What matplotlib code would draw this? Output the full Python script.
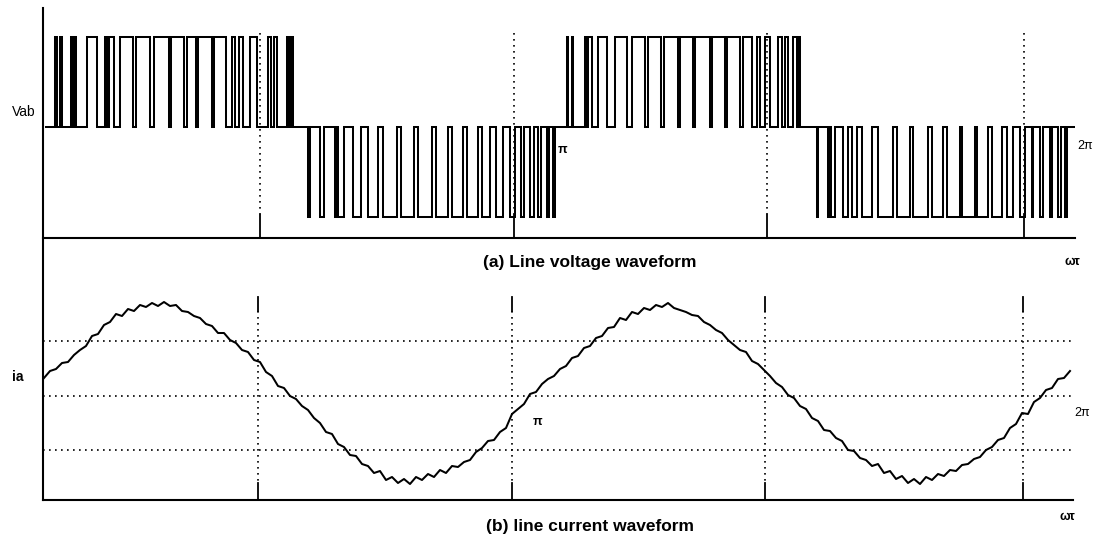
import numpy as np
import matplotlib
matplotlib.use("Agg")
import matplotlib.pyplot as plt

# ---------------- data ----------------
# x axis: omega*t in arbitrary sample units (0 .. 1032 across the plot)
X_MAX = 1032

# (a) line voltage: PWM pulses as (start, end) per half cycle, level +1 / -1
pos_pulses_1 = [(12, 14), (17, 19), (28, 30), (31, 33), (44, 54), (62, 64), (66, 71),
                (77, 90), (93, 107), (111, 126), (128, 141), (144, 153), (155, 169),
                (171, 183), (189, 192), (196, 200), (207, 214), (225, 228), (231, 234),
                (244, 246), (248, 250)]
neg_pulses_1 = [(265, 267), (277, 281), (292, 294), (295, 301), (310, 318), (325, 335),
                (340, 354), (358, 371), (375, 389), (393, 405), (409, 420), (424, 435),
                (439, 447), (453, 460), (467, 472), (478, 481), (487, 491), (495, 498),
                (504, 506), (510, 512)]
pos_pulses_2 = [(524, 525), (529, 530), (542, 544), (545, 549), (555, 564), (572, 584),
                (589, 602), (605, 618), (621, 635), (637, 650), (652, 667), (669, 682),
                (684, 697), (700, 709), (714, 717), (722, 727), (735, 739), (742, 745),
                (750, 754), (755, 757)]
neg_pulses_2 = [(774, 775), (785, 787), (788, 792), (800, 805), (809, 814), (819, 829),
                (835, 850), (854, 867), (870, 885), (889, 900), (904, 917), (919, 932),
                (934, 945), (949, 959), (964, 970), (977, 982), (989, 990), (997, 1000),
                (1007, 1009), (1015, 1018), (1022, 1024)]
vab_start = 3

# (b) line current samples, one every 6 units starting at 1
ia_step = 6
ia_start = 1
ia_vals = [18, 25, 27, 33, 34, 41, 46, 50, 60, 62, 71, 74, 82, 80, 87, 85, 91, 89, 93, 90,
           94, 90, 91, 85, 84, 80, 78, 72, 70, 63, 63, 56, 53, 46, 44, 36, 34, 24, 20, 10,
           8, 0, -3, -10, -14, -22, -27, -36, -38, -48, -51, -59, -60, -68, -70, -77, -75,
           -84, -81, -87, -83, -88, -81, -84, -78, -81, -74, -77, -70, -71, -66, -64, -56,
           -52, -45, -44, -36, -32, -18, -13, -8, 2, 4, 12, 17, 20, 27, 30, 38, 40, 48, 50,
           58, 60, 68, 69, 78, 76, 84, 82, 88, 86, 91, 89, 93, 88, 86, 84, 81, 80, 74, 71,
           66, 63, 56, 51, 46, 44, 35, 32, 26, 20, 13, 9, 1, -2, -10, -13, -22, -25, -34,
           -35, -42, -45, -54, -55, -62, -64, -70, -68, -77, -75, -83, -80, -87, -83, -88,
           -81, -84, -78, -80, -74, -75, -69, -68, -63, -61, -54, -51, -44, -42, -32, -28,
           -17, -18, -6, -2, 6, 8, 17, 18, 25]

# reference lines
top_vlines = [217, 471, 724, 981]
bot_vlines = [215, 469, 722, 980]
bot_hgrid = [55, 0, -54]

# ---------------- figure ----------------
W, H = 1096, 536
fig = plt.figure(figsize=(W / 100, H / 100), dpi=100)
fig.patch.set_facecolor("white")

def frac_rect(l, t, r, b):
    return [l / W, 1 - b / H, (r - l) / W, (b - t) / H]

ax1 = fig.add_axes(frac_rect(43, 8, 1075, 238))
ax2 = fig.add_axes(frac_rect(43, 240, 1075, 500))

for ax in (ax1, ax2):
    for s in ("top", "right"):
        ax.spines[s].set_visible(False)
    for s in ("left", "bottom"):
        ax.spines[s].set_linewidth(1.5)
        ax.spines[s].set_color("black")
    ax.set_xticks([])
    ax.set_yticks([])
    ax.set_xlim(0, X_MAX)
    ax.set_facecolor("none")

ax1.set_ylim(-1.233, 1.322)
ax2.set_ylim(-104, 156)
ax2.spines["bottom"].set_bounds(0, 1030)

dot = (0, (1, 2.6))

# (a) PWM line voltage
xs, ys = [vab_start], [0.0]
for pulses, lev in ((pos_pulses_1, 1.0), (neg_pulses_1, -1.0),
                    (pos_pulses_2, 1.0), (neg_pulses_2, -1.0)):
    for s, e in pulses:
        xs += [s, s, e, e]
        ys += [0.0, lev, lev, 0.0]
xs.append(X_MAX)
ys.append(0.0)
ax1.plot(xs, ys, color="black", lw=1.45, solid_joinstyle="miter")

for xv in top_vlines:
    ax1.plot([xv, xv], [1.04, -0.98], color="black", lw=1.2, linestyle=dot)
    ax1.plot([xv, xv], [-0.98, -1.233], color="black", lw=1.3)

# (b) line current
ia_x = ia_start + ia_step * np.arange(len(ia_vals))
for yv in bot_hgrid:
    ax2.plot([0, 1030], [yv, yv], color="black", lw=1.2, linestyle=dot)
for xv in bot_vlines:
    ax2.plot([xv, xv], [99, 85], color="black", lw=1.3)
    ax2.plot([xv, xv], [85, -87], color="black", lw=1.2, linestyle=dot)
    ax2.plot([xv, xv], [-87, -104], color="black", lw=1.3)
ax2.plot(ia_x, ia_vals, color="black", lw=1.45)

# ---------------- text ----------------
def ftext(x, y, s, **kw):
    fig.text(x / W, 1 - y / H, s, ha="center", va="center",
             family=["Liberation Sans", "DejaVu Sans"], **kw)

ftext(24, 112, "Vab", fontsize=10)
ftext(563, 150, "π", fontsize=9, fontweight="bold")
ftext(1085, 146, "2π", fontsize=9)
ftext(590, 262, "(a) Line voltage waveform", fontsize=12.5, fontweight="bold")
ftext(1072, 262, "ωτ", fontsize=9, fontweight="bold")
ftext(18, 377, "ia", fontsize=10, fontweight="bold")
ftext(538, 422, "π", fontsize=9, fontweight="bold")
ftext(1082, 413, "2π", fontsize=9)
ftext(590, 527, "(b) line current waveform", fontsize=12.5, fontweight="bold")
ftext(1067, 517, "ωτ", fontsize=9, fontweight="bold")

fig.savefig("out.png", dpi=100, facecolor="white")
